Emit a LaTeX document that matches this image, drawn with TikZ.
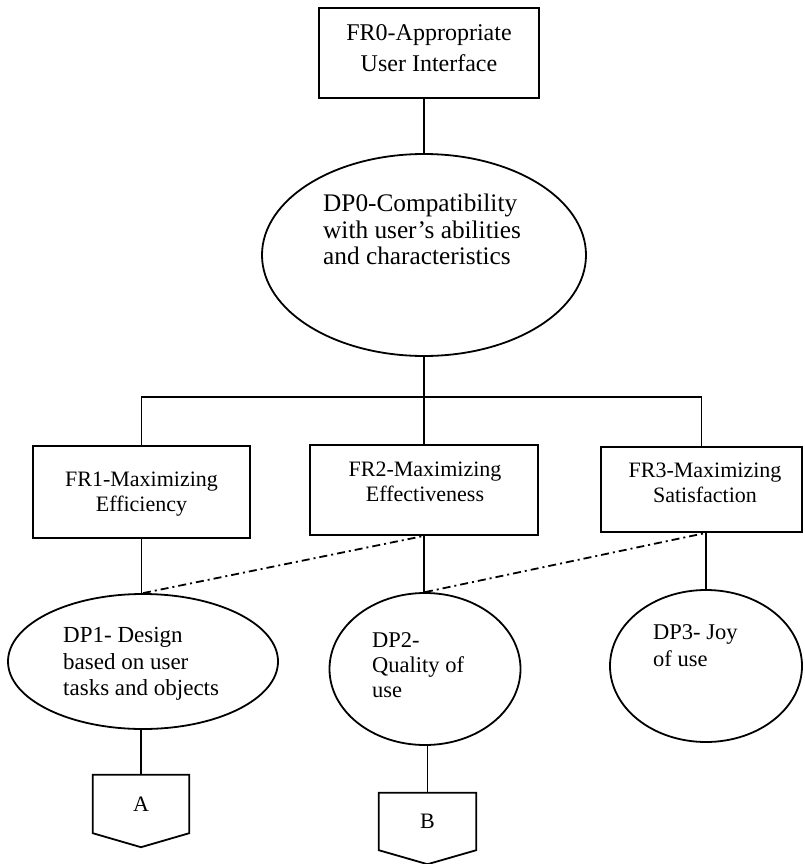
\documentclass[tikz,border=0pt]{standalone}
\usepackage{fontspec}
\setmainfont{Liberation Serif}
\usetikzlibrary{shapes.geometric,calc}
\tikzset{
  boxnode/.style={draw, line width=1.8pt, rectangle, inner sep=0pt},
  ellnode/.style={draw, line width=1.8pt, ellipse, inner sep=0pt},
  txt/.style={inner sep=0pt, align=left},
  ctxt/.style={inner sep=0pt, align=center},
  link/.style={line width=1.8pt},
  dlink/.style={line width=1.8pt, dash pattern=on 8pt off 4pt on 2pt off 4pt},
  penta/.style={line width=1.8pt, line join=miter}
}
\begin{document}
\begin{tikzpicture}[x=1pt,y=-1pt]
\useasboundingbox (0,0) rectangle (804,864);

% top requirement
\node[boxnode, minimum width=220pt, minimum height=90pt] (top) at (429,53) {};
\node[ctxt, font=\fontsize{24}{31}\selectfont] (toptxt) at (429,48) {FR0-Appropriate\\User Interface};

% DP0
\node[ellnode, minimum width=324pt, minimum height=202pt] (dp0) at (424,255) {};
\node[txt, anchor=west, font=\fontsize{25.3}{26.5}\selectfont] (dp0txt) at (323,229.6) {DP0-Compatibility\\with user's abilities\\and characteristics};

% FR boxes
\node[boxnode, minimum width=217pt, minimum height=92pt] (fr1) at (141.5,492) {};
\node[ctxt, font=\fontsize{22}{25}\selectfont] (fr1txt) at (141.5,494.3) {FR1-Maximizing\\Efficiency};
\node[boxnode, minimum width=228pt, minimum height=90pt] (fr2) at (424,490) {};
\node[ctxt, font=\fontsize{22}{25}\selectfont] (fr2txt) at (425,482) {FR2-Maximizing\\Effectiveness};
\node[boxnode, minimum width=201pt, minimum height=85pt] (fr3) at (701.5,489.5) {};
\node[ctxt, font=\fontsize{22}{25}\selectfont] (fr3txt) at (705,483) {FR3-Maximizing\\Satisfaction};

% DP ellipses
\node[ellnode, minimum width=270pt, minimum height=135pt] (dp1) at (143,661.5) {};
\node[txt, anchor=west, font=\fontsize{23}{26.5}\selectfont] (dp1txt) at (63,664.2) {DP1- Design\\based on user\\tasks and objects};
\node[ellnode, minimum width=191pt, minimum height=152pt] (dp2) at (425,669) {};
\node[txt, anchor=west, font=\fontsize{22.5}{25}\selectfont] (dp2txt) at (372,665.3) {DP2-\\Quality of\\use};
\node[ellnode, minimum width=192pt, minimum height=152pt] (dp3) at (706,666) {};
\node[txt, anchor=west, font=\fontsize{22.5}{27}\selectfont] (dp3txt) at (653,645.8) {DP3- Joy\\of use};

% off-page connectors
\node[inner sep=0pt, minimum width=96pt, minimum height=58pt, font=\fontsize{22}{25}\selectfont] (A) at (141,804) {A};
\node[inner sep=0pt, minimum width=97pt, minimum height=57pt, font=\fontsize{22}{25}\selectfont] (B) at (427.5,821.5) {B};
\draw[penta] (A.north west) -- (A.north east) -- (A.south east) -- ($(A.south)+(0,14)$) -- (A.south west) -- cycle;
\draw[penta] (B.north west) -- (B.north east) -- (B.south east) -- ($(B.south)+(0,14)$) -- (B.south west) -- cycle;

% connectors
\coordinate (bus) at (424,397);
\draw[link] (dp0.north |- top.south) -- (dp0.north);
\draw[link] (dp0.south) -- (fr2.north);
\draw[link] (fr1.north) |- (bus) -| (fr3.north);
\draw[link] (fr1.south) -- (fr1.south |- dp1.north);
\draw[link] (fr2.south) -- (fr2.south |- dp2.north);
\draw[link] (fr3.south -| dp3.north) -- (dp3.north);
\draw[dlink] (dp1.north) -- (fr2.south);
\draw[dlink] (dp2.north) -- (fr3.south -| dp3.north);
\draw[link] (A.north |- dp1.south) -- (A.north);
\draw[link] (B.north |- dp2.south) -- (B.north);
\end{tikzpicture}
\end{document}
